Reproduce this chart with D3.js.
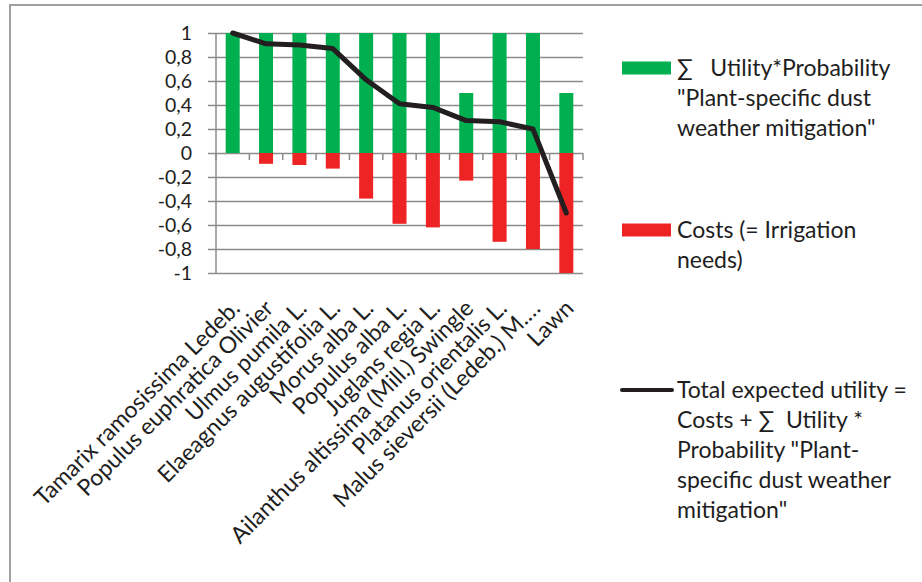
<!DOCTYPE html>
<html>
<head>
<meta charset="utf-8">
<script src="https://cdn.jsdelivr.net/npm/d3@7"></script>
<style>
  body { margin: 0; background: #fff; }
  svg text { font-family: Lato, "Open Sans", sans-serif; fill: #1e1e1e; }
</style>
</head>
<body>
<svg id="chart" width="922" height="582"></svg>
<script>
// *************** DATA ***************
const plants = [
  "Tamarix ramosissima Ledeb.",
  "Populus euphratica Olivier",
  "Ulmus pumila L.",
  "Elaeagnus augustifolia L.",
  "Morus alba L.",
  "Populus alba L.",
  "Juglans regia L.",
  "Ailanthus altissima (Mill.) Swingle",
  "Platanus orientalis L.",
  "Malus sieversii (Ledeb.) M.…",
  "Lawn"
];
const utility = [1, 1, 1, 1, 1, 1, 1, 0.5, 1, 1, 0.5];
const costs = [0, -0.09, -0.1, -0.13, -0.38, -0.59, -0.62, -0.23, -0.74, -0.8, -1];
const total = [1, 0.91, 0.9, 0.87, 0.61, 0.41, 0.38, 0.27, 0.26, 0.2, -0.5];
const yTicks = [1, 0.8, 0.6, 0.4, 0.2, 0, -0.2, -0.4, -0.6, -0.8, -1];

const legendItems = [
  { type: "bar", color: "#00b050", lines: ["\u2211   Utility*Probability", "\"Plant-specific dust", "weather mitigation\""] },
  { type: "bar", color: "#ee2324", lines: ["Costs (= Irrigation", "needs)"] },
  { type: "line", color: "#231f20", lines: ["Total expected utility =", "Costs + \u2211  Utility *", "Probability \"Plant-", "specific dust weather", "mitigation\""] }
];

// *************** CONSTANTS ***************
const svg = d3.select("#chart");
const plot = { left: 216, right: 583, top: 33, bottom: 273 };
const gridColor = "#8c8c8c";

const x = d3.scaleBand()
            .domain(plants)
            .range([plot.left, plot.right]);

const y = d3.scaleLinear()
            .domain([-1, 1])
            .range([plot.bottom, plot.top]);

const barW = 14;

// chart border
svg.append("rect")
   .attr("x", 10)
   .attr("y", 5)
   .attr("width", 930)
   .attr("height", 600)
   .attr("fill", "none")
   .attr("stroke", "#a0a0a0")
   .attr("stroke-width", 2);

// *************** AXES ***************
const yAxis = svg.append("g")
                 .attr("transform", `translate(${plot.left},0)`)
                 .call(d3.axisLeft(y)
                        .tickValues(yTicks)
                        .tickSize(-(plot.right - plot.left))
                        .tickPadding(24)
                        .tickFormat(d => String(d).replace(".", ",")));
yAxis.select(".domain").attr("stroke", gridColor).attr("stroke-width", 1.5).attr("d", `M0,${plot.top}V${plot.bottom}`);
yAxis.selectAll(".tick line")
     .attr("stroke", gridColor)
     .attr("stroke-width", 1.5)
     .attr("x1", -8);
yAxis.selectAll(".tick text")
     .attr("font-size", "19.5px")
     .attr("dy", "0.35em");

// category ticks on zero line
const xAxis = svg.append("g")
                 .attr("transform", `translate(0,${y(0)})`)
                 .call(d3.axisBottom(x).tickSize(0).tickFormat(""));
xAxis.select(".domain").remove();
xAxis.selectAll(".catTick")
     .data(plants.concat(["end"]))
     .join("line")
     .attr("class", "catTick")
     .attr("x1", (d, i) => plot.left + i * x.step())
     .attr("x2", (d, i) => plot.left + i * x.step())
     .attr("y1", 0)
     .attr("y2", 7)
     .attr("stroke", gridColor)
     .attr("stroke-width", 1.5);

// *************** BARS ***************
svg.append("g")
   .selectAll("rect")
   .data(utility)
   .join("rect")
   .attr("x", (d, i) => x(plants[i]) + x.bandwidth() / 2 - barW / 2)
   .attr("y", d => y(d))
   .attr("width", barW)
   .attr("height", d => y(0) - y(d))
   .attr("fill", "#00b050");

svg.append("g")
   .selectAll("rect")
   .data(costs)
   .join("rect")
   .attr("x", (d, i) => x(plants[i]) + x.bandwidth() / 2 - barW / 2)
   .attr("y", y(0))
   .attr("width", barW)
   .attr("height", d => y(d) - y(0))
   .attr("fill", "#ee2324");

// *************** LINE ***************
svg.append("path")
   .datum(total)
   .attr("d", d3.line()
                .x((d, i) => x(plants[i]) + x.bandwidth() / 2)
                .y(d => y(d)))
   .attr("fill", "none")
   .attr("stroke", "#231f20")
   .attr("stroke-width", 5)
   .attr("stroke-linejoin", "round")
   .attr("stroke-linecap", "round");

// *************** CATEGORY LABELS ***************
svg.append("g")
   .selectAll("text")
   .data(plants)
   .join("text")
   .attr("transform", d => `translate(${x(d) + x.bandwidth() / 2 + 3},${plot.bottom + 31}) rotate(-45)`)
   .attr("text-anchor", "end")
   .attr("dy", "0.35em")
   .attr("font-size", "23px")
   .text(d => d);

// *************** LEGEND ***************
const legendTop = [68, 230, 390];
const legend = svg.append("g");
legendItems.forEach((item, k) => {
  const cy = legendTop[k];
  if (item.type === "bar") {
    legend.append("rect")
          .attr("x", 622)
          .attr("y", cy - 6.5)
          .attr("width", 49)
          .attr("height", 13)
          .attr("fill", item.color);
  } else {
    legend.append("line")
          .attr("x1", 622)
          .attr("x2", 672)
          .attr("y1", cy)
          .attr("y2", cy)
          .attr("stroke", item.color)
          .attr("stroke-width", 4)
          .attr("stroke-linecap", "round");
  }
  item.lines.forEach((t, j) => {
    legend.append("text")
          .attr("x", 677)
          .attr("y", cy + j * 30)
          .attr("dy", "0.35em")
          .attr("font-size", "23px")
          .attr("xml:space", "preserve")
          .text(t);
  });
});
</script>
</body>
</html>
